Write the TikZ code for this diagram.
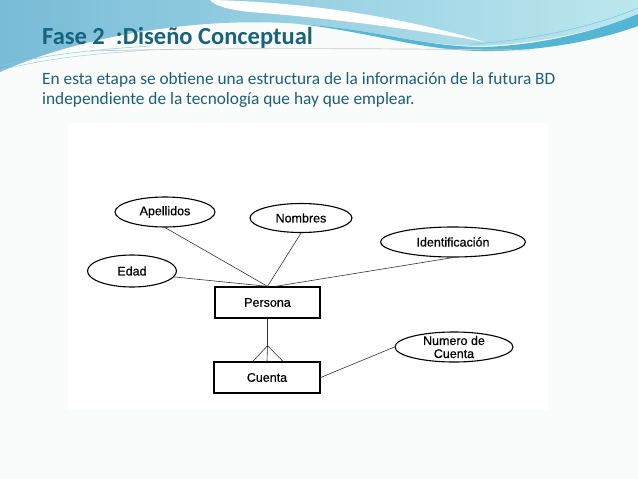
\documentclass[tikz,border=0pt]{standalone}
\usepackage{fontspec}
\setmainfont{Carlito}
\newfontfamily\erfont[FakeBold=0.5]{Liberation Sans}
\usetikzlibrary{shapes.geometric}
\definecolor{titleteal}{HTML}{17637D}
\definecolor{textteal}{HTML}{1D5F77}
\definecolor{waveleft}{HTML}{78BCD7}
\definecolor{waveright}{HTML}{BCE7EF}
\definecolor{waveband}{HTML}{55B6D4}
\definecolor{slidebg}{HTML}{FAFBFB}

\begin{document}
\begin{tikzpicture}[x=1pt,y=-1pt,
    attr/.style={draw, ellipse, line width=1.1pt, inner sep=0pt, align=center,
      font=\erfont\fontsize{12.5}{13}\selectfont},
    entity/.style={draw, rectangle, line width=1.3pt, minimum width=105pt,
      minimum height=31pt, font=\erfont\fontsize{12.5}{13}\selectfont},
    link/.style={line width=0.6pt, black!80}]
                \useasboundingbox (0,0) rectangle (638,479);
                % slide background
                \fill[slidebg] (0,0) rectangle (638,479);

                % top wave
                \shade[left color=waveleft, right color=waveright] (0,0) -- (638,0) -- (638,14) .. controls (600,30) and (540,44) .. (480,46) .. controls (420,46) and (380,30) .. (300,24) .. controls (200,16) and (80,36) .. (0,72) -- cycle;
                \fill[white] (210,0) .. controls (320,2) and (420,22) .. (485,42) .. controls (420,30) and (330,18) .. (250,12) .. controls (230,10) and (215,6) .. (210,0) -- cycle;
                \fill[waveband] (300,24) .. controls (380,30) and (420,46) .. (480,47) .. controls (540,46) and (600,30) .. (638,14) -- (638,26) .. controls (600,40) and (540,52) .. (480,51) .. controls (420,50) and (380,34) .. (300,24) -- cycle;
                \draw[waveband!70, line width=0.5pt] (0,66) .. controls (50,54) and (90,50) .. (150,46);
                \draw[waveband!60, line width=0.5pt] (0,70) .. controls (50,58) and (90,54) .. (150,50);
                \draw[waveband!80, line width=0.5pt] (470,44) .. controls (540,40) and (600,24) .. (638,8);
                \draw[gray!45, line width=0.7pt] (90,51) .. controls (250,47) and (400,49) .. (530,50);

                % title and text
                \node[anchor=base west, inner sep=0pt, text=titleteal, font=\bfseries\fontsize{24.5}{28}\selectfont] (title) at (42,45) {Fase 2\ \ :Diseño Conceptual};
                \node[anchor=base west, inner sep=0pt, text=textteal, font=\fontsize{17.3}{20}\selectfont] (intro1) at (42,84) {En esta etapa se obtiene una estructura de la información de la futura BD};
                \node[anchor=base west, inner sep=0pt, text=textteal, font=\fontsize{17.3}{20}\selectfont] (intro2) at (42,104) {independiente de la tecnología que hay que emplear.};

                % picture box
                \fill[white] (68,123) rectangle (548,410);

                % attributes
                \node[attr, minimum width=100pt, minimum height=30pt] (apellidos) at (165,212) {Apellidos};
                \node[attr, minimum width=102pt, minimum height=29pt] (nombres) at (301,218) {Nombres};
                \node[attr, minimum width=145pt, minimum height=30pt] (identificacion) at (453,242) {Identificación};
                \node[attr, minimum width=89pt, minimum height=32pt] (edad) at (132,271) {Edad};
                \node[attr, minimum width=118pt, minimum height=30pt, inner ysep=-5pt] (numcuenta) at (454,347) {Numero de\\Cuenta};

                % entities
                \node[entity] (persona) at (267.5,302.5) {Persona};
                \node[entity, minimum width=106pt] (cuenta) at (267,377.5) {Cuenta};

                % links
                \draw[link] (apellidos.south) -- (persona.north);
                \draw[link] (nombres.south) -- (persona.north);
                \draw[link] (identificacion.south) -- ([xshift=8pt]persona.north);
                \draw[link] (edad.-8) -- (persona.north);
                \coordinate (fork) at ([yshift=-27pt]persona.south);
                \draw[link] (persona.south) -- (fork);
                \draw[link] (fork) -- ([xshift=-14pt]cuenta.north);
                \draw[link] (fork) -- (cuenta.north);
                \draw[link] (fork) -- ([xshift=16pt]cuenta.north);
                \draw[link] (cuenta.east) -- (numcuenta.west);

            \end{tikzpicture}
\end{document}
